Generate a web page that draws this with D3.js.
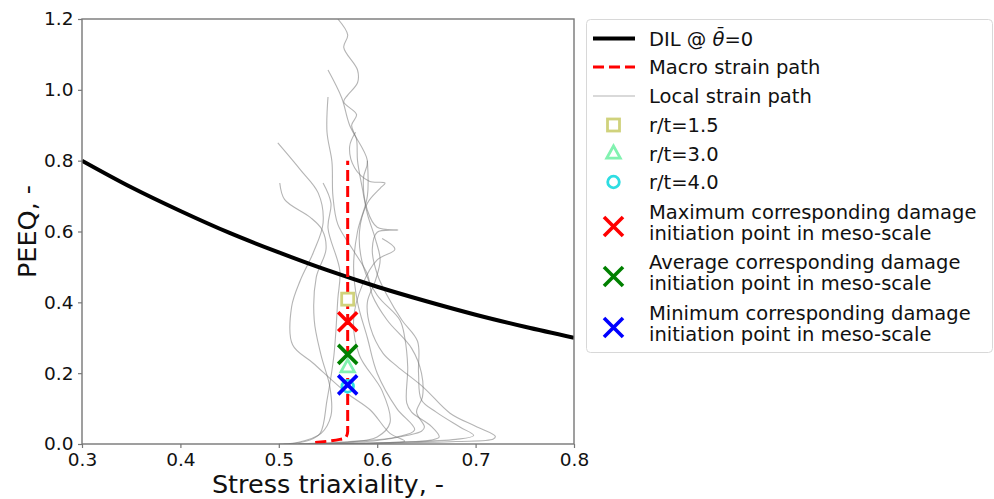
<!DOCTYPE html>
<html>
<head>
<meta charset="utf-8">
<script src="https://cdn.jsdelivr.net/npm/d3@7"></script>
<style>
  body { margin: 0; background: #fff; }
  svg { display: block; font-family: "DejaVu Sans", sans-serif; }
</style>
</head>
<body>
<svg id="chart" width="994" height="499"></svg>
<script>
// ---- data ----
const xTickValues = [0.3, 0.4, 0.5, 0.6, 0.7, 0.8];
const yTickValues = [0.0, 0.2, 0.4, 0.6, 0.8, 1.0, 1.2];

// damage initiation locus at Lode angle 0
const dilEta  = [0.30, 0.35, 0.40, 0.45, 0.50, 0.55, 0.60, 0.65, 0.70, 0.75, 0.80];
const dilPeeq = [0.800, 0.725, 0.658, 0.596, 0.541, 0.490, 0.444, 0.403, 0.365, 0.331, 0.300];

// macroscopic strain path
const macroEta  = [0.537, 0.550, 0.562, 0.568, 0.570, 0.570, 0.570];
const macroPeeq = [0.004, 0.008, 0.013, 0.018, 0.035, 0.400, 0.800];

// local (meso-scale) strain paths, [triaxiality, PEEQ]
const localPaths = [
  [[0.505,0],[0.60,0.002],[0.68,0.007],[0.718,0.014],[0.72,0.022],[0.70,0.05],[0.674,0.087],[0.647,0.16],[0.62,0.22],[0.606,0.256],[0.593,0.33],[0.590,0.40],[0.598,0.46],[0.603,0.52],[0.598,0.58],[0.590,0.65],[0.585,0.72],[0.580,0.80],[0.579,0.86],[0.574,0.90],[0.579,0.93],[0.566,0.966],[0.570,0.985],[0.580,1.02],[0.580,1.056],[0.566,1.12],[0.570,1.155],[0.560,1.2]],
  [[0.52,0],[0.62,0.005],[0.68,0.013],[0.698,0.024],[0.684,0.048],[0.660,0.09],[0.645,0.124],[0.642,0.20],[0.641,0.29],[0.625,0.35],[0.610,0.42],[0.600,0.48],[0.595,0.55],[0.600,0.598],[0.621,0.604],[0.600,0.612],[0.590,0.66],[0.586,0.75],[0.590,0.80],[0.572,0.90],[0.564,0.977],[0.550,1.056]],
  [[0.53,0],[0.62,0.005],[0.655,0.011],[0.663,0.02],[0.655,0.05],[0.635,0.09],[0.630,0.116],[0.631,0.218],[0.628,0.30],[0.623,0.35],[0.600,0.42],[0.586,0.50],[0.582,0.60],[0.590,0.68],[0.603,0.722],[0.608,0.737],[0.592,0.742],[0.577,0.78],[0.572,0.84],[0.578,0.88]],
  [[0.54,0],[0.60,0.010],[0.630,0.024],[0.645,0.036],[0.648,0.048],[0.640,0.09],[0.646,0.133],[0.645,0.20],[0.635,0.27],[0.610,0.35],[0.595,0.42],[0.590,0.48],[0.575,0.55],[0.560,0.62],[0.555,0.70],[0.554,0.797],[0.549,0.88],[0.550,0.98]],
  [[0.55,0],[0.60,0.002],[0.628,0.008],[0.613,0.03],[0.593,0.096],[0.569,0.144],[0.535,0.228],[0.514,0.28],[0.513,0.387],[0.522,0.463],[0.535,0.54],[0.545,0.624],[0.540,0.709],[0.522,0.774],[0.499,0.85]],
  [[0.50,0],[0.52,0.005],[0.543,0.03],[0.553,0.08],[0.552,0.16],[0.543,0.25],[0.536,0.35],[0.538,0.47],[0.548,0.55],[0.544,0.605],[0.532,0.64],[0.506,0.69],[0.501,0.737]],
  [[0.51,0],[0.53,0.010],[0.542,0.03],[0.549,0.124],[0.556,0.25],[0.560,0.41],[0.562,0.49],[0.550,0.61],[0.553,0.68],[0.545,0.737]],
  [[0.52,0],[0.58,0.008],[0.62,0.02],[0.638,0.04],[0.620,0.10],[0.600,0.20],[0.590,0.30],[0.580,0.40],[0.576,0.50],[0.580,0.60],[0.590,0.70],[0.590,0.80]],
  [[0.53,0],[0.57,0.005],[0.600,0.02],[0.613,0.06],[0.605,0.15],[0.582,0.25],[0.576,0.35],[0.585,0.45],[0.600,0.52],[0.618,0.55],[0.605,0.58]]
];

// corresponding damage initiation points for each r/t
const rtLabels = ["r/t=1.5", "r/t=3.0", "r/t=4.0"];
const rtEta    = [0.570, 0.570, 0.570];
const rtPeeq   = [0.409, 0.217, 0.163];

const mesoLabels = [
  ["Maximum corresponding damage", "initiation point in meso-scale"],
  ["Average corresponding damage", "initiation point in meso-scale"],
  ["Minimum corresponding damage", "initiation point in meso-scale"]
];
const mesoEta  = [0.570, 0.570, 0.570];
const mesoPeeq = [0.345, 0.253, 0.167];

// ---- styling ----
const rtShapes = ["square", "triangle", "circle"];
const rtColors = ["#d0d27c", "#82f2b0", "#2edde2"];
const mesoColors = ["#ff0000", "#008000", "#0000ff"];

const svg = d3.select("#chart");
const plot = { left: 82, right: 574, top: 19, bottom: 444 };

const x = d3.scaleLinear().domain([0.3, 0.8]).range([plot.left, plot.right]);
const y = d3.scaleLinear().domain([0, 1.2]).range([plot.bottom, plot.top]);

svg.append("defs").append("clipPath").attr("id", "plot-clip")
  .append("rect").attr("x", plot.left).attr("y", plot.top)
  .attr("width", plot.right - plot.left).attr("height", plot.bottom - plot.top);

const g = svg.append("g").attr("clip-path", "url(#plot-clip)");

const line = d3.line().x(d => x(d[0])).y(d => y(d[1])).curve(d3.curveCatmullRom.alpha(0.5));

// local strain paths
g.selectAll("path.local").data(localPaths).join("path")
  .attr("class", "local")
  .attr("d", line)
  .attr("fill", "none")
  .attr("stroke", "#777")
  .attr("stroke-opacity", 0.55)
  .attr("stroke-width", 1.1);

// DIL
g.append("path")
  .attr("d", line(dilEta.map((e, i) => [e, dilPeeq[i]])))
  .attr("fill", "none").attr("stroke", "#000").attr("stroke-width", 4);

// macro strain path
g.append("path")
  .attr("d", d3.line().x(d => x(d[0])).y(d => y(d[1])).curve(d3.curveMonotoneY)(macroEta.map((e, i) => [e, macroPeeq[i]])))
  .attr("fill", "none").attr("stroke", "#ff0000").attr("stroke-width", 3)
  .attr("stroke-dasharray", "11,5");

// marker helpers
function drawShape(sel, shape, cx, cy, color) {
  if (shape === "square") {
    sel.append("rect").attr("x", cx - 6).attr("y", cy - 6).attr("width", 12).attr("height", 12)
      .attr("fill", "#fff").attr("stroke", color).attr("stroke-width", 2.8);
  } else if (shape === "triangle") {
    const r = 7.5;
    sel.append("path")
      .attr("d", `M${cx},${cy - r}L${cx + r * 0.9},${cy + r * 0.62}L${cx - r * 0.9},${cy + r * 0.62}Z`)
      .attr("fill", "#fff").attr("stroke", color).attr("stroke-width", 2.8).attr("stroke-linejoin", "miter");
  } else if (shape === "circle") {
    sel.append("circle").attr("cx", cx).attr("cy", cy).attr("r", 5.8)
      .attr("fill", "#fff").attr("stroke", color).attr("stroke-width", 2.8);
  } else if (shape === "x") {
    const h = 9.5;
    sel.append("path")
      .attr("d", `M${cx - h},${cy - h}L${cx + h},${cy + h}M${cx - h},${cy + h}L${cx + h},${cy - h}`)
      .attr("stroke", color).attr("stroke-width", 3.6).attr("fill", "none");
  }
}

const marks = svg.append("g");
rtLabels.forEach((_, i) => drawShape(marks, rtShapes[i], x(rtEta[i]), y(rtPeeq[i]), rtColors[i]));
mesoLabels.forEach((_, i) => drawShape(marks, "x", x(mesoEta[i]), y(mesoPeeq[i]), mesoColors[i]));

// frame
svg.append("rect")
  .attr("x", plot.left).attr("y", plot.top)
  .attr("width", plot.right - plot.left).attr("height", plot.bottom - plot.top)
  .attr("fill", "none").attr("stroke", "#777").attr("stroke-width", 1.4);

// axes
const xAxis = svg.append("g").attr("transform", `translate(0,${plot.bottom})`)
  .call(d3.axisBottom(x).tickValues(xTickValues).tickFormat(d3.format(".1f")).tickSize(4).tickPadding(5));
const yAxis = svg.append("g").attr("transform", `translate(${plot.left},0)`)
  .call(d3.axisLeft(y).tickValues(yTickValues).tickFormat(d3.format(".1f")).tickSize(4).tickPadding(4.5));
[xAxis, yAxis].forEach(a => {
  a.select(".domain").remove();
  a.selectAll(".tick line").attr("stroke", "#777").attr("stroke-width", 1.2);
  a.selectAll(".tick text").attr("fill", "#111").attr("font-size", 18.5).attr("font-family", "DejaVu Sans");
});

svg.append("text")
  .attr("x", (plot.left + plot.right) / 2).attr("y", 493)
  .attr("text-anchor", "middle").attr("font-size", 25.5).attr("fill", "#111")
  .text("Stress triaxiality, -");
svg.append("text")
  .attr("transform", `translate(36,${(plot.top + plot.bottom) / 2}) rotate(-90)`)
  .attr("text-anchor", "middle").attr("font-size", 25.5).attr("fill", "#111")
  .text("PEEQ, -");

// legend
const lg = svg.append("g");
lg.append("rect").attr("x", 586.5).attr("y", 19.5).attr("width", 406).attr("height", 333)
  .attr("rx", 4).attr("fill", "#fff").attr("stroke", "#d8d8d8").attr("stroke-width", 1);

const hx0 = 593, hx1 = 635, hxc = 613.5, tx = 649, fs = 19.5;
function legendText(yc, lines) {
  const t = lg.append("text").attr("x", tx).attr("font-size", fs).attr("fill", "#111");
  lines.forEach((s, k) => {
    t.append("tspan").attr("x", tx).attr("y", yc + 7 + (k - (lines.length - 1) / 2) * 21).text(s);
  });
  return t;
}

// DIL entry
lg.append("line").attr("x1", hx0).attr("x2", hx1).attr("y1", 38.5).attr("y2", 38.5)
  .attr("stroke", "#000").attr("stroke-width", 4);
{
  const t = lg.append("text").attr("x", tx).attr("y", 45.5).attr("font-size", fs).attr("fill", "#111");
  t.append("tspan").text("DIL @ ");
  t.append("tspan").attr("font-style", "italic").text("\u03B8\u0304");
  t.append("tspan").text("=0");
}
// macro entry
lg.append("line").attr("x1", hx0).attr("x2", hx1).attr("y1", 67).attr("y2", 67)
  .attr("stroke", "#ff0000").attr("stroke-width", 3).attr("stroke-dasharray", "11,5");
legendText(67, ["Macro strain path"]);
// local entry
lg.append("line").attr("x1", hx0).attr("x2", hx1).attr("y1", 96).attr("y2", 96)
  .attr("stroke", "#777").attr("stroke-opacity", 0.55).attr("stroke-width", 1.1);
legendText(96, ["Local strain path"]);

const rtRowY = [125, 153.5, 182];
rtLabels.forEach((lab, i) => {
  drawShape(lg, rtShapes[i], hxc, rtRowY[i], rtColors[i]);
  legendText(rtRowY[i], [lab]);
});

const mesoRowY = [222, 272, 323];
mesoLabels.forEach((lab, i) => {
  drawShape(lg, "x", hxc, mesoRowY[i] + 4.5, mesoColors[i]);
  legendText(mesoRowY[i], lab);
});
</script>
</body>
</html>
